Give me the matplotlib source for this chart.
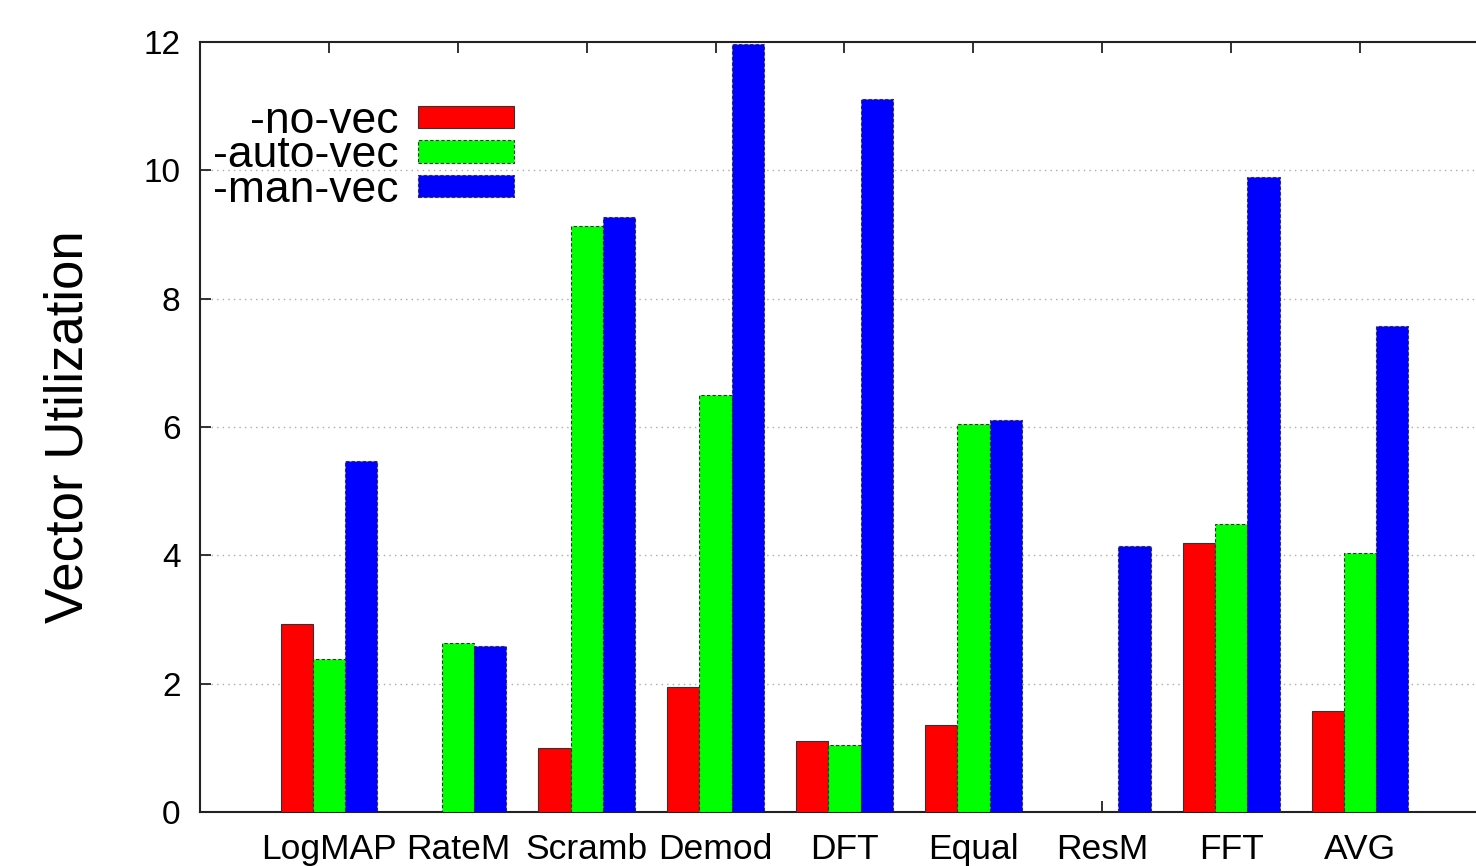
import numpy as np
import matplotlib.pyplot as plt

plt.rcParams['font.family'] = ['Liberation Sans', 'DejaVu Sans']

# data
categories = ['LogMAP', 'RateM', 'Scramb', 'Demod', 'DFT', 'Equal', 'ResM', 'FFT', 'AVG']
no_vec = [2.93, 0.0, 1.00, 1.95, 1.11, 1.36, 0.0, 4.19, 1.57]
auto_vec = [2.38, 2.63, 9.13, 6.50, 1.04, 6.05, 0.0, 4.49, 4.04]
man_vec = [5.47, 2.59, 9.27, 11.97, 11.11, 6.11, 4.15, 9.90, 7.57]
series_names = ['-no-vec', '-auto-vec', '-man-vec']
yticks = [0, 2, 4, 6, 8, 10, 12]

fig = plt.figure(figsize=(14.76, 8.66), dpi=100)
# right side of the plot runs off the picture, like the original
ax = fig.add_axes([200 / 1476, 54 / 866, 1289 / 1476, 770 / 866])

x = np.arange(len(categories))
w = 0.25
ax.bar(x - w, no_vec, w, color='#ff0000', edgecolor='#333333', linewidth=0.8,
       label=series_names[0], zorder=3)
ax.bar(x, auto_vec, w, color='#00ff00', edgecolor='#333333', linewidth=0.8,
       linestyle=(0, (3, 2)), label=series_names[1], zorder=3)
ax.bar(x + w, man_vec, w, color='#0000ff', edgecolor='#333333', linewidth=0.8,
       linestyle=(0, (3, 2)), label=series_names[2], zorder=3)

ax.set_xlim(-1, len(categories))
ax.set_ylim(0, 12)
ax.set_xticks(x)
ax.set_xticklabels(categories, fontsize=25.5)
ax.set_yticks(yticks)
ax.set_yticklabels([str(v) for v in yticks], fontsize=24)
ax.tick_params(axis='both', direction='in', length=8, width=1.3,
               top=True, right=True, color='#222222')
ax.tick_params(axis='x', pad=15)
ax.tick_params(axis='y', pad=14)

for y in yticks[1:-1]:
    ax.axhline(y, color='#aaaaaa', linestyle=(0, (1, 3)), linewidth=1.0, zorder=1)

for s in ax.spines.values():
    s.set_linewidth(1.5)
    s.set_color('#222222')

ax.set_ylabel('Vector Utilization', fontsize=38, labelpad=36)

leg = ax.legend(loc='upper right', bbox_to_anchor=(514 / 1476, 1 - 101 / 866),
                bbox_transform=fig.transFigure, frameon=False, markerfirst=False,
                fontsize=32, handlelength=2.15, handleheight=0.4, handletextpad=0.45,
                labelspacing=-0.15, borderpad=0, borderaxespad=0)

fig.savefig('out.png', dpi=100)
